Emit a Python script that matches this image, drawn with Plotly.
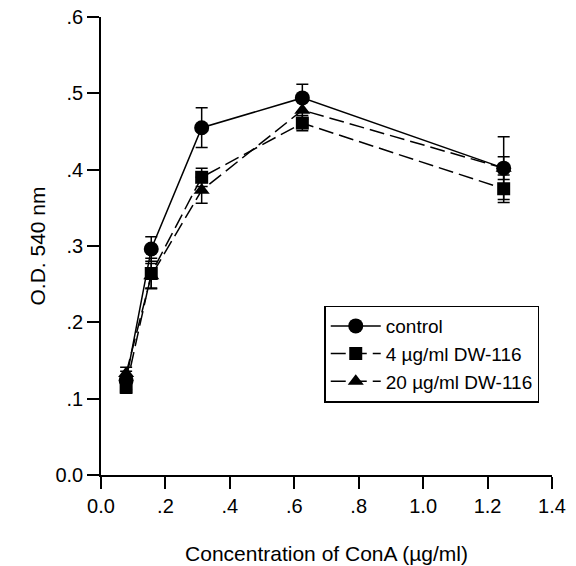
import plotly.graph_objects as go

conc = [0.078, 0.156, 0.3125, 0.625, 1.25]
control = [0.124, 0.296, 0.455, 0.494, 0.402]
control_err = [0.012, 0.016, 0.026, 0.018, 0.041]
dw4 = [0.115, 0.264, 0.390, 0.461, 0.375]
dw4_err = [0.008, 0.020, 0.012, 0.010, 0.018]
dw20 = [0.133, 0.261, 0.373, 0.478, 0.402]
dw20_err = [0.008, 0.016, 0.017, 0.012, 0.015]

x_ticks = [0.0, 0.2, 0.4, 0.6, 0.8, 1.0, 1.2, 1.4]
x_ticktext = ["0.0", ".2", ".4", ".6", ".8", "1.0", "1.2", "1.4"]
y_ticks = [0.0, 0.1, 0.2, 0.3, 0.4, 0.5, 0.6]
y_ticktext = ["0.0", ".1", ".2", ".3", ".4", ".5", ".6"]

FONT = "Liberation Sans, Arial, sans-serif"

def err(e):
    return dict(type="data", array=e, visible=True, color="black",
                thickness=1.5, width=6)

fig = go.Figure()
fig.add_trace(go.Scatter(
    x=conc, y=control, error_y=err(control_err), mode="lines+markers",
    name="control", legendgroup="a",
    line=dict(color="black", width=1.5),
    marker=dict(symbol="circle", size=15, color="black")))
fig.add_trace(go.Scatter(
    x=conc, y=dw4, error_y=err(dw4_err), mode="lines+markers",
    name="4 µg/ml DW-116", legendgroup="b",
    line=dict(color="black", width=1.5, dash="15px,6px"),
    marker=dict(symbol="square", size=13, color="black")))
fig.add_trace(go.Scatter(
    x=conc, y=dw20, error_y=err(dw20_err), mode="lines+markers",
    name="20 µg/ml DW-116", legendgroup="c",
    line=dict(color="black", width=1.5, dash="15px,6px"),
    marker=dict(symbol="triangle-up", size=14, color="black")))

fig.update_layout(
    width=576, height=566,
    margin=dict(l=101, r=24, t=17, b=91),
    paper_bgcolor="white", plot_bgcolor="white",
    font=dict(family=FONT, color="black", size=19),
    showlegend=True,
    legend=dict(
        x=0.495, y=0.37, xanchor="left", yanchor="top",
        bordercolor="black", borderwidth=1.5, bgcolor="white",
        traceorder="grouped",
        font=dict(family=FONT, size=19, color="black"),
        itemwidth=50, tracegroupgap=0,
    ),
    xaxis=dict(
        range=[0, 1.4], tickvals=x_ticks, ticktext=x_ticktext,
        showline=True, linecolor="black", linewidth=1.5,
        ticks="outside", ticklen=12, tickwidth=1.5, tickcolor="black",
        showgrid=False, zeroline=False, automargin=False,
        tickfont=dict(size=20),
        title=dict(text="Concentration of ConA (µg/ml)", font=dict(size=21), standoff=31),
    ),
    yaxis=dict(
        range=[0, 0.6], tickvals=y_ticks, ticktext=y_ticktext,
        showline=True, linecolor="black", linewidth=1.5,
        ticks="outside", ticklen=12, tickwidth=1.5, tickcolor="black",
        showgrid=False, zeroline=False, automargin=False,
        tickfont=dict(size=20),
        title=dict(text="O.D. 540 nm", font=dict(size=21), standoff=4),
    ),
)

fig.write_html("out.html")
